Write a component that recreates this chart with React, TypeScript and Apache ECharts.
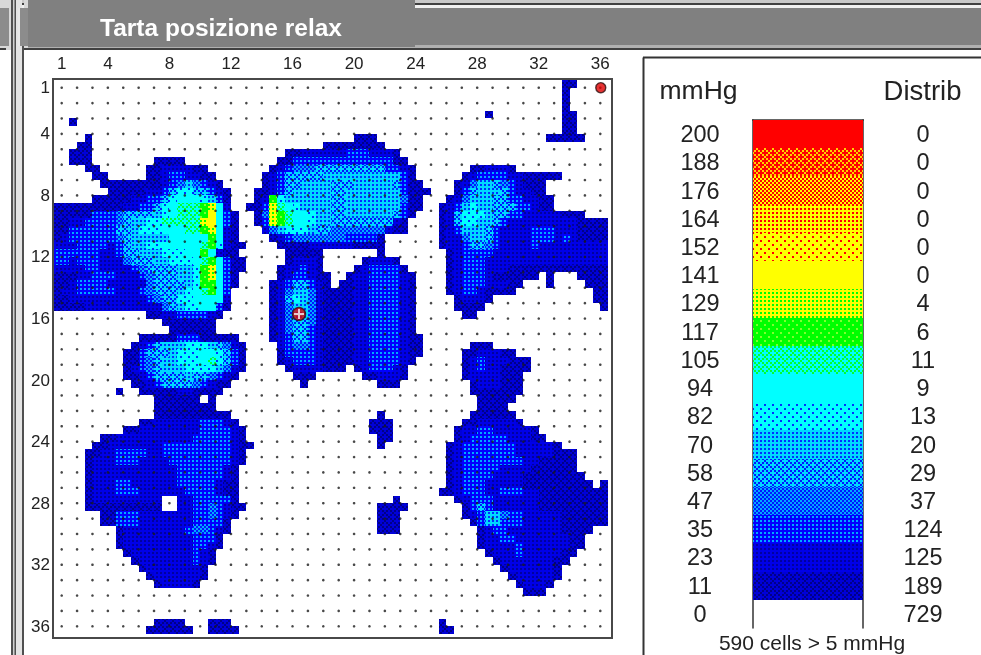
import React, { useEffect, useRef } from "react";
import * as echarts from "echarts";

const TITLE = "Tarta posizione relax";
const FONT = '"Liberation Sans", Arial, sans-serif';
const BINS = 72;
const sensorIds = Array.from({ length: 36 }, (_, i) => i + 1);
const tickLabels = [1, 4, 8, 12, 16, 20, 24, 28, 32, 36];
const levelLabels = [0, 11, 23, 35, 47, 58, 70, 82, 94, 105, 117, 129, 141, 152, 164, 176, 188, 200];
const distrib = [729, 189, 125, 124, 37, 29, 20, 13, 9, 11, 6, 4, 0, 0, 0, 0, 0, 0];
const levelBg = ["#ffffff", "#0000d8", "#0000e8", "#0000ff", "#0018ff", "#00d8ff", "#00d8ff", "#00ffff", "#00ffff", "#00ffff", "#00ff00", "#ffff00", "#ffff00", "#ffff00", "#ffff00", "#ffff00", "#ff0000", "#ff0000"];
const levelFg = ["#ffffff", "#000088", "#0000a0", "#00a8ff", "#00a8ff", "#0018ff", "#0030ff", "#0030ff", "#00ffff", "#00ff30", "#80ff30", "#00ff00", "#ffff00", "#ff0000", "#ff0000", "#ff0000", "#ffd000", "#ff0000"];
const dotsDense = ["x.x.", "....", "x.x.", "...."];
const dotsSparse = ["x...", "....", "..x.", "...."];
const checker = ["x.x.", ".x.x", "x.x.", ".x.x"];
const crossHatch = ["x...", ".x.x", "..x.", ".x.x"];
const levelMask = [dotsSparse, crossHatch, dotsDense, dotsDense, checker, crossHatch, dotsDense, dotsSparse, dotsSparse, crossHatch, dotsSparse, dotsDense, dotsSparse, dotsSparse, dotsDense, checker, crossHatch, dotsSparse];

// Each row: "startColumn:levels" runs; a level is one base-18 digit into levelLabels.
const pressureRows = [
  "66:11",
  "66:1",
  "66:1",
  "66:1",
  "56:1 66:11",
  "2:1 66:11",
  "66:11",
  "4:1 39:111 64:11111",
  "3:11 35:11111111",
  "2:111 30:112222223332221",
  "2:111 13:1111 29:1133333333333331 1",
  "4:11 12:11222211 28:1234445555555553321 54:112221",
  "5:11 12:112332211 27:12355555666666666631 53:1233332211111",
  "6:1111111123464321 27:123556666555666665311 52:124665432111",
  "7:1111122357755321 26:11235666665566666663111 52:135666532211",
  "5:111112233578887631 26:12a7666666556666666411 51:12466655332211",
  "0:11111111122335789 99ab82 25:113b987666655666666 6311 50:123676655533211",
  "0:111113334555567 8999ac831 26:14ba98876655666666531 50:1257776553322222111",
  "0:1122333345667799999bc831 26:13ba988766555555 5521 50:1257766532222222221111",
  "0:113333335567778889 9ab821 27:2467776554444444211 50:1236665322223332221111",
  "0:12333333456666688888a821 28:12344444443333 1 50:1224665322223332321111",
  "0:2223333235667788888 9a7211 29:11112222221111 50:1223554322223222222222",
  "0:3333332235566677788a8211 30:11111 42:1 51:123333222222222222222",
  "0:3323332224555667778 9a8311 30:12221 40:12221 51:123332222222222222222",
  "0:222233222234555566 7ab8311 29:122321 39:1233331 51:123332221111111111111",
  "0:1112233322234555667ab831 29:1233211 38:122333321 51:123332111111 64:1 68:1111",
  "0:112333322222455556 7aa831 28:12355321 37:1122333321 51:1233322211 64:1 69:111",
  "0:12233333222345556789a83 28:1246642111122333321 51:123321111 70:11",
  "0:112222222222345577 88882 28:1257642111122333321 52:12221 70:11",
  "0:1111222222222245677 8831 28:1246642111122333321 52:1111 71:1",
  "12:1122333321 28:1246642111122333321 53:11",
  "14:1111111 28:1245542111122333321",
  "15:111111 28:1245532111122333321",
  "11:1111133311111 28:12355321111223333211",
  "10:123566677765421 29:2344321111223333211 54:111",
  "9:1135556777887531 29:1333321111223333211 53:1122211",
  "9:1134566777897531 29:123332111122333321 53:123222111",
  "9:1234566677776421 30:12222111 39:1233321 53:123221111",
  "9:112355556554321 31:111 40:112221 53:12222111",
  "10:1123555543211 32:1 42:111 54:1222111",
  "8:1 11:11111221111 54:1111111",
  "13:111111 20:1 55:11111",
  "13:11111111 55:1111",
  "13:1111111111 42:1 54:111111",
  "11:1122222233321 41:111 53:11222221",
  "9:1122222222333321 41:111 52:12233222221",
  "6:1122222222223333321 42:11 52:123333322211",
  "5:112222222333333333211 42:1 51:123333333222221",
  "4:112233332233333333321 51:12333333322222111",
  "4:122233322223333333321 51:12333333332211111",
  "4:12222222222233333321 51:12333332222111111",
  "4:12222222222233333321 51:123333222211111111",
  "4:12223322222233333211 51:1233322222111111111 71:1",
  "4:12223332222223333211 50:1123332233322111111111",
  "4:1222222222 16:22333331 44:1 52:12333222222111111111",
  "4:1111111111 16:223343211 42:1111 53:1353222222111111111",
  "6:113332222222334321 42:111 53:1236643322222111111",
  "6:11333222222233331 42:111 54:136633322222111111",
  "8:122222222344321 42:111 55:123322222221111",
  "8:12222222223331 55:12233222222211",
  "8:12222222223321 55:12222322222211",
  "9:122222222321 56:122232222211",
  "10:12222222321 57:1222222211",
  "11:122222221 58:12222221",
  "12:12222221 59:1222221",
  "13:122221 60:12221",
  "61:111",
  "",
  "",
  "",
  "13:1111 20:111 50:1",
  "12:111111 20:1111 50:11",
];
const markers = [[36.03, 1], [16.42, 15.7]];

function buildCells() {
  const cells: number[][] = [];
  pressureRows.forEach((row, r) => {
    let col = 0;
    row.split(" ").forEach((part) => {
      if (!part) return;
      const idx = part.indexOf(":");
      let levels = part;
      if (idx >= 0) {
        col = Number(part.slice(0, idx));
        levels = part.slice(idx + 1);
      }
      for (const ch of levels) {
        cells.push([col, r, parseInt(ch, 18)]);
        col += 1;
      }
    });
  });
  return cells;
}

function patternFor(level: number): any {
  const c = document.createElement("canvas");
  c.width = 8;
  c.height = 8;
  const g = c.getContext("2d")!;
  g.fillStyle = levelBg[level];
  g.fillRect(0, 0, 8, 8);
  g.fillStyle = levelFg[level];
  levelMask[level].forEach((line, y) => {
    [...line].forEach((ch, x) => {
      if (ch === "x") g.fillRect(x * 2, y * 2, 2, 2);
    });
  });
  return { image: c, repeat: "repeat", imageWidth: 8, imageHeight: 8 };
}

export default function App() {
  const ref = useRef<HTMLDivElement>(null);
  useEffect(() => {
    document.body.style.margin = "0";
    const chart = echarts.init(ref.current!, undefined, { renderer: "svg" });
    const patterns = levelLabels.map((_, i) => patternFor(i));
    const binCats = Array.from({ length: BINS }, (_, i) => i);
    const cellItem = (_: any, api: any) => {
      const pt = api.coord([api.value(0), api.value(1)]);
      const size = api.size([1, 1]);
      const x0 = Math.round(pt[0] - size[0] / 2);
      const x1 = Math.round(pt[0] + size[0] / 2);
      const y0 = Math.round(pt[1] - size[1] / 2);
      const y1 = Math.round(pt[1] + size[1] / 2);
      return {
        type: "rect",
        shape: { x: x0, y: y0, width: x1 - x0, height: y1 - y0 },
        style: { fill: patterns[api.value(2)] },
      };
    };
    const mapCells = buildCells();
    const legendCells = levelLabels.slice(1).map((_, i) => [0, i + 1, i + 1]);
    const gridDots: number[][] = [];
    sensorIds.forEach((y) => sensorIds.forEach((x) => gridDots.push([x, y])));
    const bar = (x: number, y: number, width: number, height: number, fill: string) => ({
      type: "rect", shape: { x, y, width, height }, style: { fill }, silent: true,
    });
    chart.setOption({
      animation: false,
      backgroundColor: "#ffffff",
      grid: [
        { left: 54, top: 80, width: 554, height: 554 },
        { left: 753, top: 120, width: 110, height: 508 },
      ],
      xAxis: [
        { type: "category", gridIndex: 0, data: binCats, show: false },
        {
          type: "value", gridIndex: 0, min: 0.5, max: 36.5, position: "top",
          splitLine: { show: false }, axisLine: { show: false }, axisTick: { show: false },
          axisLabel: { color: "#222", fontFamily: FONT, fontSize: 17, margin: 8, customValues: tickLabels, showMinLabel: true, showMaxLabel: true },
        },
        { type: "category", gridIndex: 1, data: ["bar"], show: false },
      ],
      yAxis: [
        { type: "category", gridIndex: 0, data: binCats, inverse: true, show: false },
        {
          type: "value", gridIndex: 0, min: 0.5, max: 36.5, inverse: true, position: "left",
          splitLine: { show: false }, axisLine: { show: false }, axisTick: { show: false },
          axisLabel: { color: "#222", fontFamily: FONT, fontSize: 17, margin: 4, customValues: tickLabels },
        },
        {
          type: "category", gridIndex: 1, data: levelLabels, position: "left",
          axisLine: { show: true, lineStyle: { color: "#333", width: 1.5 } }, axisTick: { show: false },
          axisLabel: { color: "#222", fontFamily: FONT, fontSize: 23.5, align: "center", margin: 53, interval: 0 },
        },
        {
          type: "category", gridIndex: 1, data: levelLabels, position: "right",
          axisLine: { show: true, lineStyle: { color: "#333", width: 1.5 } }, axisTick: { show: false },
          axisLabel: { color: "#222", fontFamily: FONT, fontSize: 23.5, align: "center", margin: 60, interval: 0, formatter: (_: string, i: number) => String(distrib[i]) },
        },
      ],
      series: [
        { type: "custom", xAxisIndex: 0, yAxisIndex: 0, data: mapCells, renderItem: cellItem, encode: { x: 0, y: 1 }, progressive: 0, silent: true, clip: false, z: 2 },
        { type: "custom", xAxisIndex: 2, yAxisIndex: 2, data: legendCells, renderItem: cellItem, encode: { x: 0, y: 1 }, progressive: 0, silent: true, z: 2 },
        { type: "scatter", xAxisIndex: 1, yAxisIndex: 1, data: gridDots, symbolSize: 2.6, itemStyle: { color: "#1a1a1a" }, silent: true, z: 3 },
        {
          type: "scatter", xAxisIndex: 1, yAxisIndex: 1, data: markers, symbolSize: (_: any, p: any) => (p.dataIndex === 0 ? 10 : 13),
          itemStyle: { color: "#e00000", borderColor: "#301010", borderWidth: 1.4 }, silent: true, z: 4,
        },
        {
          type: "scatter", xAxisIndex: 1, yAxisIndex: 1, data: markers.slice(1), symbol: "path://M4 0H6V4H10V6H6V10H4V6H0V4H4Z",
          symbolSize: 10, itemStyle: { color: "#f4f4f4" }, silent: true, z: 5,
        },
      ],
      graphic: [
        bar(0, 0, 981, 3, "#c8c8c8"),
        bar(0, 3, 981, 2, "#404040"),
        bar(0, 5, 981, 3, "#f0f0f0"),
        bar(0, 8, 981, 37, "#808080"),
        bar(0, 45, 981, 3, "#b0b0b0"),
        bar(0, 48, 981, 2, "#404040"),
        bar(0, 0, 11, 50, "#d8d8d8"),
        bar(0, 8, 9, 38, "#8c8c8c"),
        bar(0, 48, 6, 2, "#404040"),
        bar(11, 0, 5, 655, "#505050"),
        bar(13, 0, 1.5, 655, "#d0d0d0"),
        bar(16, 0, 6, 655, "#e4e4e4"),
        bar(22, 8, 2, 647, "#505050"),
        bar(24, 0, 4, 48, "#d8d8d8"),
        bar(18, 8, 2, 38, "#e8e8e8"),
        bar(20, 8, 8, 38, "#8c8c8c"),
        bar(28, 0, 387, 47, "#808080"),
        { type: "rect", shape: { x: 53, y: 79, width: 559, height: 559 }, style: { fill: "none", stroke: "#484848", lineWidth: 2 }, silent: true },
        { type: "line", shape: { x1: 643.5, y1: 655, x2: 643.5, y2: 57.5 }, style: { stroke: "#333", lineWidth: 2 }, silent: true },
        { type: "line", shape: { x1: 643, y1: 57.5, x2: 981, y2: 57.5 }, style: { stroke: "#333", lineWidth: 2 }, silent: true },
        { type: "line", shape: { x1: 752, y1: 120, x2: 864, y2: 120 }, style: { stroke: "#333", lineWidth: 1.5 }, silent: true },
        { type: "text", x: 221, y: 27, style: { text: TITLE, fill: "#ffffff", font: `bold 24.5px ${FONT}`, textAlign: "center", textVerticalAlign: "middle" }, silent: true },
        { type: "text", x: 698.5, y: 90, style: { text: "mmHg", fill: "#222", font: `26.5px ${FONT}`, textAlign: "center", textVerticalAlign: "middle" }, silent: true },
        { type: "text", x: 922.5, y: 90, style: { text: "Distrib", fill: "#222", font: `27.5px ${FONT}`, textAlign: "center", textVerticalAlign: "middle" }, silent: true },
        { type: "text", x: 812, y: 642, style: { text: "590 cells > 5 mmHg", fill: "#222", font: `21px ${FONT}`, textAlign: "center", textVerticalAlign: "middle" }, silent: true },
      ],
    });
    return () => chart.dispose();
  }, []);
  return <div ref={ref} style={{ position: "fixed", left: 0, top: 0, width: 981, height: 655, filter: "blur(0.4px)" }} />;
}
